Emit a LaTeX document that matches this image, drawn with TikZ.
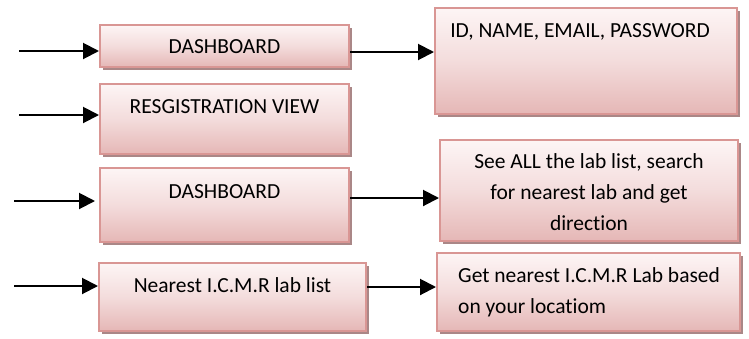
\documentclass[tikz,border=0pt]{standalone}
\usepackage{fontspec}
\setmainfont{Carlito}[Ligatures=NoCommon]
\usetikzlibrary{arrows.meta,shadows}
\definecolor{boxedge}{RGB}{217,150,148}
\definecolor{boxtop}{RGB}{253,245,245}
\definecolor{boxbot}{RGB}{229,183,182}
\definecolor{shadowc}{RGB}{170,135,135}
\begin{document}
\begin{tikzpicture}[x=1pt,y=-1pt,
  pinkbox/.style={draw=boxedge, line width=2pt, rectangle, inner sep=0pt,
    top color=boxtop, bottom color=boxbot, middle color=boxtop!60!boxbot,
    drop shadow={shadow xshift=3pt, shadow yshift=-3pt, opacity=1, fill=shadowc}},
  lbl/.style={inner sep=0pt, font=\fontsize{21.5}{31}\selectfont},
  arr/.style={line width=2pt, -{Triangle[length=16pt,width=16pt]}}]
\useasboundingbox (0,0) rectangle (749,338);
% boxes: centre, width, height from pixel extents
\node[pinkbox, minimum width=249pt, minimum height=42pt] (b1) at (224.5,46) {};
\node[pinkbox, minimum width=249pt, minimum height=70pt] (b2) at (224.5,119) {};
\node[pinkbox, minimum width=249pt, minimum height=74pt] (b3) at (224.5,205) {};
\node[pinkbox, minimum width=267pt, minimum height=68pt] (b4) at (232.5,297) {};
\node[pinkbox, minimum width=302pt, minimum height=106pt] (b5) at (586,61) {};
\node[pinkbox, minimum width=298pt, minimum height=101pt] (b6) at (589,190.5) {};
\node[pinkbox, minimum width=303pt, minimum height=78pt] (b7) at (588.5,292) {};
% texts
\node[lbl] (t1) at (224.5,47) {DASHBOARD};
\node[lbl] (t2) at (224.5,107) {RESGISTRATION VIEW};
\node[lbl] (t3) at (224.5,192) {DASHBOARD};
\node[lbl] (t4) at (232.5,285) {Nearest I.C.M.R lab list};
\node[lbl] (t5) at (580,32) {ID, NAME, EMAIL, PASSWORD};
\node[lbl, align=center, anchor=north] (t6) at (589,153) {See ALL the lab list, search\\for nearest lab and get\\direction};
\node[lbl, align=left, anchor=north west] (t7) at (458,267) {Get nearest I.C.M.R Lab based\\on your locatiom};
% incoming arrows
\coordinate (s1) at (19,51);
\coordinate (s2) at (19,115);
\coordinate (s3) at (14,201);
\coordinate (s4) at (14,286);
\draw[arr] (s1) -- (s1 -| b1.west);
\draw[arr] (s2) -- (s2 -| b2.west);
\draw[arr] (s3) -- ([xshift=-4pt]s3 -| b3.west);
\draw[arr] (s4) -- (s4 -| b4.west);
% box to box arrows
\draw[arr] ([yshift=-6pt]b1.east) -- ([yshift=-6pt]b1.east -| b5.west);
\draw[arr] ([yshift=7pt]b3.east) -- ([yshift=7pt]b3.east -| b6.west);
\draw[arr] ([yshift=10pt]b4.east) -- ([yshift=10pt]b4.east -| b7.west);
\end{tikzpicture}
\end{document}
